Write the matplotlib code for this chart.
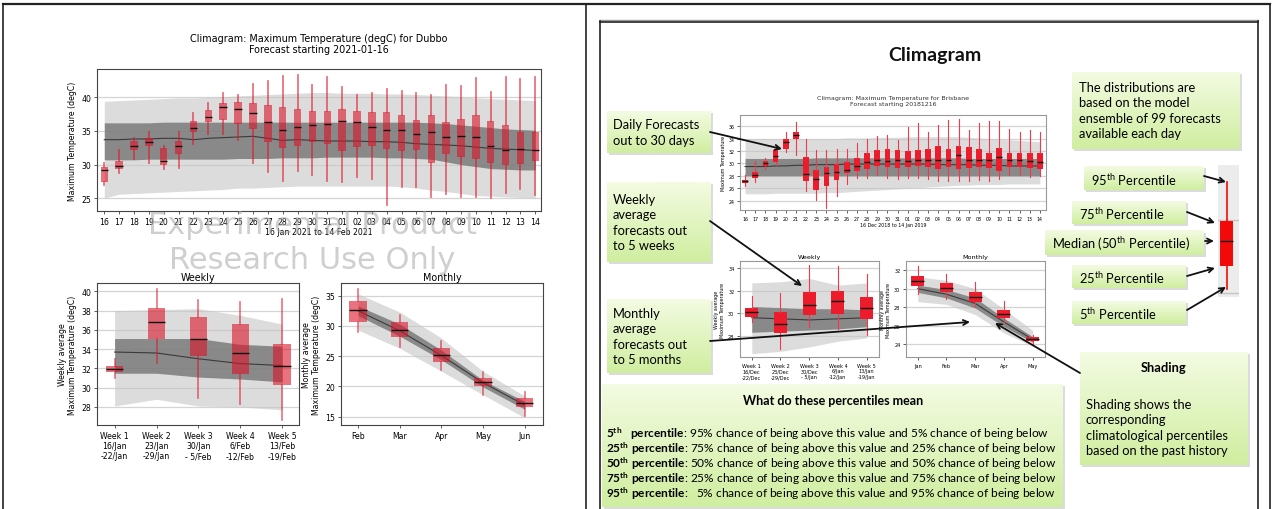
import numpy as np
import matplotlib.pyplot as plt
from matplotlib.colors import LinearSegmentedColormap
from matplotlib.patches import Rectangle

W, H = 1273, 510

# ---------------- Dubbo: daily forecast 16 Jan - 14 Feb 2021 ----------------
dubbo_days = ['16', '17', '18', '19', '20', '21', '22', '23', '24', '25', '26', '27', '28', '29', '30', '31',
              '01', '02', '03', '04', '05', '06', '07', '08', '09', '10', '11', '12', '13', '14']
dubbo_p5 = [26.9, 28.8, 30.9, 30.2, 29.4, 29.5, 33.1, 34.6, 34.6, 33.7, 30.2, 28.9, 27.5, 29.0, 28.4,
            27.6, 27.4, 28.2, 27.8, 24.0, 26.6, 26.7, 25.2, 25.7, 25.2, 25.2, 25.0, 25.8, 26.3, 25.5]
dubbo_p25 = [27.4, 29.4, 32.1, 32.7, 29.9, 31.6, 34.8, 36.3, 36.6, 36.0, 35.3, 33.4, 32.4, 32.8, 33.3,
             33.0, 32.0, 32.6, 32.7, 32.3, 32.0, 32.1, 30.3, 31.6, 31.1, 30.8, 30.2, 30.0, 30.1, 30.6]
dubbo_p50 = [29.2, 29.8, 32.7, 33.3, 30.5, 32.7, 35.5, 37.0, 38.5, 38.3, 37.6, 36.3, 35.1, 35.6, 35.9,
             36.0, 36.5, 36.3, 35.6, 35.2, 35.1, 34.6, 34.8, 34.1, 34.3, 34.1, 32.8, 32.1, 32.3, 32.2]
dubbo_p75 = [29.7, 30.5, 33.5, 34.0, 32.4, 33.5, 36.5, 38.1, 39.1, 39.3, 39.2, 38.9, 38.6, 38.3, 37.9,
             37.9, 38.2, 37.9, 37.8, 37.8, 37.3, 36.6, 37.3, 36.3, 36.8, 37.4, 36.4, 35.9, 34.8, 34.8]
dubbo_p95 = [30.2, 32.2, 34.0, 34.8, 32.7, 34.8, 37.6, 39.2, 40.6, 40.4, 42.0, 42.4, 43.1, 43.3, 41.8,
             43.0, 41.5, 40.3, 40.6, 41.3, 41.0, 40.6, 40.3, 41.8, 41.6, 42.8, 40.8, 43.0, 42.7, 43.0]
# climatology
dubbo_c5 = [25.0, 25.6, 25.7, 25.8, 25.9, 26.0, 26.1, 26.2, 26.3, 26.5, 26.5, 26.6, 26.7, 26.8, 26.8,
            26.8, 26.8, 26.8, 26.8, 26.8, 26.7, 26.5, 26.2, 26.0, 25.7, 25.4, 25.3, 25.2, 25.1, 25.1]
dubbo_c25 = [30.7, 30.7, 30.7, 30.8, 30.8, 30.8, 30.8, 30.8, 30.8, 30.9, 30.9, 30.9, 31.0, 31.0, 31.0,
             31.1, 31.1, 31.1, 31.1, 31.0, 31.0, 30.9, 30.8, 30.4, 30.0, 29.7, 29.4, 29.3, 29.2, 29.2]
dubbo_c50 = [33.7, 33.7, 33.8, 33.8, 33.9, 33.9, 33.7, 33.9, 34.0, 34.1, 34.2, 33.9, 33.6, 33.7, 33.6,
             33.5, 33.5, 33.5, 33.4, 33.4, 33.3, 33.1, 33.0, 32.9, 32.8, 32.6, 32.4, 32.3, 32.2, 32.1]
dubbo_c75 = [36.2, 36.2, 36.2, 36.2, 36.3, 36.3, 36.3, 36.3, 36.3, 36.3, 36.3, 36.3, 36.3, 36.3, 36.3,
             36.3, 36.3, 36.3, 36.3, 36.3, 36.3, 36.3, 36.2, 36.1, 35.9, 35.7, 35.5, 35.3, 35.2, 35.1]
dubbo_c95 = [39.4, 39.5, 39.6, 39.7, 39.8, 39.9, 39.9, 40.0, 40.1, 40.2, 40.3, 40.4, 40.5, 40.6, 40.7,
             40.7, 40.6, 40.6, 40.6, 40.5, 40.5, 40.4, 40.3, 40.2, 40.1, 39.9, 39.8, 39.7, 39.6, 39.5]

dubbo_weeks = ['Week 1\n16/Jan\n-22/Jan', 'Week 2\n23/Jan\n-29/Jan', 'Week 3\n30/Jan\n- 5/Feb',
               'Week 4\n6/Feb\n-12/Feb', 'Week 5\n13/Feb\n-19/Feb']
dubbo_w5 = [31.05, 32.6, 28.9, 28.3, 26.7]
dubbo_w25 = [31.6, 35.0, 33.3, 31.4, 30.3]
dubbo_w50 = [31.95, 36.8, 35.1, 33.6, 32.3]
dubbo_w75 = [32.3, 38.3, 37.3, 36.6, 34.5]
dubbo_w95 = [33.0, 40.25, 39.1, 38.9, 39.2]
dubbo_wc5 = [28.1, 28.8, 28.1, 28.0, 27.7]
dubbo_wc25 = [31.5, 31.5, 31.1, 30.9, 30.6]
dubbo_wc50 = [33.7, 33.6, 33.0, 32.5, 32.3]
dubbo_wc75 = [35.1, 35.1, 35.1, 34.5, 34.3]
dubbo_wc95 = [38.0, 38.1, 38.2, 37.5, 36.6]

dubbo_months = ['Feb', 'Mar', 'Apr', 'May', 'Jun']
dubbo_m5 = [29.0, 26.5, 22.7, 18.5, 15.1]
dubbo_m25 = [30.6, 28.1, 24.1, 20.0, 16.5]
dubbo_m50 = [32.6, 29.3, 25.2, 20.7, 17.2]
dubbo_m75 = [34.2, 30.6, 26.4, 21.3, 18.0]
dubbo_m95 = [36.1, 31.8, 27.5, 22.3, 19.1]
dubbo_mc5 = [29.3, 26.3, 22.5, 18.6, 14.8]
dubbo_mc25 = [31.7, 28.3, 24.4, 19.9, 16.2]
dubbo_mc50 = [32.5, 29.2, 25.1, 20.6, 16.9]
dubbo_mc75 = [33.3, 30.3, 26.0, 21.0, 17.5]
dubbo_mc95 = [35.3, 32.3, 28.0, 22.5, 18.4]

# ---------------- Brisbane example: forecast starting 20181216 ----------------
bris_days = ['16', '17', '18', '19', '20', '21', '22', '23', '24', '25', '26', '27', '28', '29', '30', '31',
             '01', '02', '03', '04', '05', '06', '07', '08', '09', '10', '11', '12', '13', '14']
bris_p5 = [26.4, 27.0, 29.1, 29.7, 31.8, 31.4, 25.5, 24.1, 22.9, 24.8, 26.7, 27.7, 27.7, 28.1, 27.7,
           27.5, 27.7, 27.6, 27.5, 27.2, 27.1, 27.2, 27.2, 27.4, 27.2, 27.5, 28.1, 28.1, 27.8, 28.0]
bris_p25 = [26.9, 27.6, 29.6, 30.2, 32.4, 34.0, 27.1, 25.8, 26.4, 27.4, 28.4, 28.8, 29.1, 29.6, 29.4,
            29.3, 29.4, 29.6, 29.4, 29.1, 29.4, 29.1, 29.3, 29.4, 29.3, 28.8, 29.4, 29.4, 29.3, 29.1]
bris_p50 = [27.1, 28.2, 30.0, 31.2, 33.4, 34.5, 28.3, 27.5, 28.4, 28.6, 29.0, 29.6, 30.3, 30.6, 30.4,
            30.6, 30.4, 30.6, 30.5, 30.5, 30.5, 31.3, 30.6, 30.6, 30.5, 31.0, 30.5, 30.5, 30.4, 30.2]
bris_p75 = [27.4, 28.6, 30.4, 32.1, 34.0, 35.0, 31.1, 28.9, 29.4, 29.9, 30.2, 30.9, 31.6, 32.1, 32.3,
            32.1, 32.0, 32.2, 32.3, 32.8, 32.3, 32.8, 32.6, 32.3, 31.7, 32.5, 31.7, 31.7, 31.6, 31.6]
bris_p95 = [28.1, 30.4, 30.9, 32.9, 35.1, 36.7, 34.0, 32.2, 32.1, 32.4, 32.3, 33.3, 34.0, 34.4, 34.5,
            33.7, 35.9, 36.5, 35.1, 36.2, 37.0, 37.2, 35.4, 36.5, 36.9, 36.9, 35.6, 35.1, 35.4, 35.0]
bris_c5 = [25.1, 25.1, 25.1, 25.2, 25.2, 25.2, 25.2, 25.2, 25.3, 25.3, 25.4, 25.5, 25.6, 25.7, 25.8,
           25.9, 26.0, 26.1, 26.2, 26.3, 26.4, 26.5, 26.5, 26.6, 26.6, 26.6, 26.7, 26.7, 26.7, 26.7]
bris_c25 = [28.0, 28.0, 28.0, 28.0, 28.0, 28.0, 28.0, 28.0, 28.0, 28.0, 28.0, 28.0, 28.0, 28.0, 28.0,
            28.0, 28.0, 28.0, 28.0, 28.0, 28.0, 28.0, 28.0, 28.0, 28.0, 28.0, 28.0, 28.0, 28.0, 28.0]
bris_c50 = [29.5, 29.5, 29.5, 29.6, 29.6, 29.7, 29.7, 29.8, 29.8, 29.8, 29.9, 29.9, 29.9, 29.9, 29.9,
            29.9, 29.9, 29.9, 29.9, 29.8, 29.8, 29.8, 29.8, 29.7, 29.7, 29.7, 29.6, 29.6, 29.6, 29.6]
bris_c75 = [30.8, 30.8, 30.8, 30.8, 30.8, 30.8, 30.8, 30.9, 30.9, 30.9, 30.9, 30.9, 30.9, 30.9, 30.9,
            30.9, 30.9, 30.9, 30.9, 30.9, 30.9, 30.9, 30.8, 30.8, 30.8, 30.8, 30.8, 30.8, 30.8, 30.8]
bris_c95 = [34.0, 34.0, 34.0, 34.0, 34.0, 34.0, 34.0, 34.0, 34.0, 34.0, 34.1, 34.1, 34.1, 34.2, 34.2,
            34.2, 34.3, 34.3, 34.3, 34.3, 34.3, 34.3, 34.2, 34.1, 34.0, 33.9, 33.8, 33.7, 33.6, 33.5]

bris_weeks = ['Week 1\n16/Dec\n-22/Dec', 'Week 2\n23/Dec\n-29/Dec', 'Week 3\n30/Dec\n- 5/Jan',
              'Week 4\n6/Jan\n-12/Jan', 'Week 5\n13/Jan\n-19/Jan']
bris_w5 = [29.2, 26.8, 28.8, 28.6, 28.1]
bris_w25 = [29.7, 28.2, 29.8, 29.9, 29.5]
bris_w50 = [30.15, 29.0, 30.75, 31.1, 30.45]
bris_w75 = [30.5, 30.15, 31.85, 32.0, 31.4]
bris_w95 = [31.5, 31.8, 34.3, 34.2, 33.5]
bris_wc5 = [26.4, 26.6, 27.0, 27.5, 27.8]
bris_wc25 = [28.3, 28.4, 28.5, 28.6, 28.8]
bris_wc50 = [29.6, 29.5, 29.4, 29.5, 29.6]
bris_wc75 = [30.6, 30.5, 30.4, 30.4, 30.3]
bris_wc95 = [32.7, 32.8, 33.1, 32.5, 32.7]

bris_months = ['Jan', 'Feb', 'Mar', 'Apr', 'May']
bris_m5 = [29.4, 28.9, 28.1, 26.3, 24.0]
bris_m25 = [30.3, 29.6, 28.6, 26.8, 24.3]
bris_m50 = [30.85, 30.1, 29.15, 27.3, 24.5]
bris_m75 = [31.4, 30.6, 29.6, 27.7, 24.8]
bris_m95 = [32.5, 31.6, 30.7, 28.7, 25.0]
bris_mc5 = [28.6, 28.3, 27.2, 25.2, 23.8]
bris_mc25 = [29.6, 29.0, 27.9, 25.9, 24.2]
bris_mc50 = [30.0, 29.4, 28.4, 26.4, 24.5]
bris_mc75 = [30.4, 29.9, 29.0, 26.8, 24.8]
bris_mc95 = [31.3, 30.9, 30.0, 27.8, 25.5]

# example box on the legend: 5th, 25th, 50th, 75th, 95th
legend_box = [8, 31, 56, 76, 115]

plt.rcParams['mathtext.fontset'] = 'custom'
plt.rcParams['mathtext.rm'] = 'Lato'
plt.rcParams['mathtext.bf'] = 'Lato:bold'

fig = plt.figure(figsize=(W / 100, H / 100), dpi=100)


def px_axes(l, t, r, b):
    return fig.add_axes([l / W, 1 - b / H, (r - l) / W, (b - t) / H])


def climagram(ax, fc, clim, labels, box, wlw, width, alpha, fs, spine='#444444'):
    x = np.arange(len(labels))
    ax.fill_between(x, clim[0], clim[4], color='#c6c6c6', alpha=0.6, lw=0, zorder=1)
    ax.fill_between(x, clim[1], clim[3], color='#6e6e6e', alpha=0.75, lw=0, zorder=1.1)
    ax.plot(x, clim[2], color='#3a3a3a', lw=0.8, zorder=1.2)
    stats = [dict(whislo=a, q1=b, med=c, q3=d, whishi=e) for a, b, c, d, e in zip(*fc)]
    ax.bxp(stats, positions=x, widths=width, patch_artist=True, showcaps=False, showfliers=False,
           boxprops=dict(facecolor=box[0], edgecolor='none', alpha=alpha),
           whiskerprops=dict(color=box[1], lw=wlw, alpha=alpha),
           medianprops=dict(color='#111111', lw=1.0), zorder=3)
    ax.set_xticks(x, labels)
    ax.yaxis.grid(True, color='#d4d4d4', lw=0.9, zorder=0)
    ax.set_axisbelow(True)
    ax.tick_params(labelsize=fs, length=2.5, width=0.6, color='#444444', pad=1.5)
    for s in ax.spines.values():
        s.set_color(spine)
        s.set_linewidth(0.8)


# ---------------- left panel (Dubbo) ----------------
red_a = ('#dc1428', '#dc1428')
ax = px_axes(97, 70, 541, 212)
climagram(ax, (dubbo_p5, dubbo_p25, dubbo_p50, dubbo_p75, dubbo_p95),
          (dubbo_c5, dubbo_c25, dubbo_c50, dubbo_c75, dubbo_c95), dubbo_days, red_a, 1.3, 0.5, 0.6, 5.6)
ax.set_xlim(-0.49, 29.38)
ax.set_ylim(23.1, 44.2)
ax.set_yticks([25, 30, 35, 40])
ax.set_title('Climagram: Maximum Temperature (degC) for Dubbo\nForecast starting 2021-01-16', fontsize=6.9, pad=12)
ax.set_xlabel('16 Jan 2021 to 14 Feb 2021', fontsize=5.6, labelpad=1)
ax.set_ylabel('Maximum Temperature (degC)', fontsize=5.6, labelpad=3)

ax = px_axes(97, 284, 299, 426)
climagram(ax, (dubbo_w5, dubbo_w25, dubbo_w50, dubbo_w75, dubbo_w95),
          (dubbo_wc5, dubbo_wc25, dubbo_wc50, dubbo_wc75, dubbo_wc95), dubbo_weeks, red_a, 1.2, 0.42, 0.6, 5.6)
ax.set_xlim(-0.42, 4.4)
ax.set_ylim(26.13, 40.86)
ax.set_yticks([28, 30, 32, 34, 36, 38, 40])
ax.set_title('Weekly', fontsize=6.9, pad=2)
ax.set_ylabel('Weekly average\nMaximum Temperature (degC)', fontsize=5.6, labelpad=3)

ax = px_axes(341, 284, 543, 426)
climagram(ax, (dubbo_m5, dubbo_m25, dubbo_m50, dubbo_m75, dubbo_m95),
          (dubbo_mc5, dubbo_mc25, dubbo_mc50, dubbo_mc75, dubbo_mc95), dubbo_months, red_a, 1.2, 0.42, 0.6, 5.6)
ax.set_xlim(-0.41, 4.44)
ax.set_ylim(13.6, 37.1)
ax.set_yticks([15, 20, 25, 30, 35])
ax.set_title('Monthly', fontsize=6.9, pad=2)
ax.set_ylabel('Monthly average\nMaximum Temperature (degC)', fontsize=5.6, labelpad=3)

# ---------------- right panel (Brisbane example) ----------------
red_b = ('#ec1c2c', '#f03a4c')
ax = px_axes(740, 116, 1046, 211)
climagram(ax, (bris_p5, bris_p25, bris_p50, bris_p75, bris_p95),
          (bris_c5, bris_c25, bris_c50, bris_c75, bris_c95), bris_days, red_b, 0.8, 0.55, 1.0, 3.4, '#999999')
ax.set_xlim(-0.5, 29.6)
ax.set_ylim(22.5, 37.8)
ax.set_yticks([24, 26, 28, 30, 32, 34, 36])
ax.set_title('Climagram: Maximum Temperature for Brisbane\nForecast starting 20181216', fontsize=4.5, pad=7,
             color='#333333')
ax.set_xlabel('16 Dec 2018 to 14 Jan 2019', fontsize=3.4, labelpad=1)
ax.set_ylabel('Maximum Temperature', fontsize=3.4, labelpad=2)

ax = px_axes(740, 262, 879, 358)
climagram(ax, (bris_w5, bris_w25, bris_w50, bris_w75, bris_w95),
          (bris_wc5, bris_wc25, bris_wc50, bris_wc75, bris_wc95), bris_weeks, red_b, 0.8, 0.45, 1.0, 3.6, '#999999')
ax.set_xlim(-0.41, 4.43)
ax.set_ylim(26.1, 34.65)
ax.set_yticks([28, 30, 32, 34])
ax.set_title('Weekly', fontsize=4.6, pad=2)
ax.set_ylabel('Weekly average\nMaximum Temperature', fontsize=3.4, labelpad=2)

ax = px_axes(906, 262, 1045, 358)
climagram(ax, (bris_m5, bris_m25, bris_m50, bris_m75, bris_m95),
          (bris_mc5, bris_mc25, bris_mc50, bris_mc75, bris_mc95), bris_months, red_b, 0.8, 0.45, 1.0, 3.6, '#999999')
ax.set_xlim(-0.41, 4.43)
ax.set_ylim(22.6, 33.0)
ax.set_yticks([24, 26, 28, 30, 32])
ax.set_title('Monthly', fontsize=4.6, pad=2)
ax.set_ylabel('Monthly average\nMaximum Temperature', fontsize=3.4, labelpad=2)

# example box next to the percentile labels
ax = px_axes(1218, 166, 1239, 298)
ax.axhline(77, color='#c4c4c4', lw=1)
ax.axhline(4, color='#c4c4c4', lw=1)
ax.bxp([dict(whislo=legend_box[0], q1=legend_box[1], med=legend_box[2], q3=legend_box[3], whishi=legend_box[4])],
       positions=[-0.08], widths=0.62, patch_artist=True, showcaps=False, showfliers=False,
       boxprops=dict(facecolor='#f20a0a', edgecolor='none'), whiskerprops=dict(color='#f20a0a', lw=1.2),
       medianprops=dict(color='#111111', lw=1.0))
ax.set_xlim(-0.5, 0.5)
ax.set_ylim(0, 132)
ax.axis('off')
ax.add_patch(Rectangle((0, 0), 1, 1, transform=ax.transAxes, color='#ececec', zorder=0))

# ---------------- overlay: frames, text boxes, arrows ----------------
ov = fig.add_axes([0, 0, 1, 1], zorder=10)
ov.patch.set_visible(False)
green = LinearSegmentedColormap.from_list('green', ['#f3fbe2', '#d0eea0'])
grad = np.linspace(0, 1, 64).reshape(-1, 1)
lato = 'Lato'


def green_box(l, t, r, b):
    ov.add_patch(Rectangle((l + 1.5, t + 2), r - l, b - t, color='#b8b8b8', alpha=0.5, lw=0, zorder=1))
    ov.imshow(grad, extent=(l, r, b, t), cmap=green, aspect='auto', zorder=2, interpolation='bilinear')


def arrow(x1, y1, x2, y2):
    ov.annotate('', xy=(x2, y2), xytext=(x1, y1),
                arrowprops=dict(arrowstyle='->', color='#111111', lw=1.3, mutation_scale=9,
                                shrinkA=0, shrinkB=0), zorder=5)


# panel frames
ov.plot([3, 1270], [5, 5], color='#222222', lw=1.6)
ov.plot([3, 3], [5, 510], color='#222222', lw=1.2)
ov.plot([1270, 1270], [5, 510], color='#222222', lw=1.2)
ov.plot([586, 586], [5, 510], color='#222222', lw=1.2)
ov.plot([600, 1258], [21, 21], color='#999999', lw=1.0)
ov.plot([600, 1258], [23, 23], color='#222222', lw=1.2)
ov.plot([600, 600], [22, 510], color='#222222', lw=1.2)
ov.plot([1258, 1258], [22, 510], color='#222222', lw=1.2)

# watermark on the Dubbo chart
ov.text(312, 226, 'Experimental Product', fontsize=22, color='#a8a8a8', alpha=0.55, ha='center', va='center')
ov.text(312, 261, 'Research Use Only', fontsize=22, color='#a8a8a8', alpha=0.55, ha='center', va='center')

ov.text(935, 55, 'Climagram', fontsize=14, fontweight='bold', family=lato, ha='center', va='center', color='#111111')

fs = 9.3
green_box(607, 112, 711, 154)
ov.text(613, 133, 'Daily Forecasts\nout to 30 days', fontsize=fs, family=lato, va='center', linespacing=1.35)
green_box(607, 183, 711, 263)
ov.text(613, 223, 'Weekly\naverage\nforecasts out\nto 5 weeks', fontsize=fs, family=lato, va='center',
        linespacing=1.35)
green_box(607, 300, 711, 374)
ov.text(613, 337, 'Monthly\naverage\nforecasts out\nto 5 months', fontsize=fs, family=lato, va='center',
        linespacing=1.35)
green_box(1072, 73, 1240, 150)
ov.text(1079, 111, 'The distributions are\nbased on the model\nensemble of 99 forecasts\navailable each day',
        fontsize=fs, family=lato, va='center', linespacing=1.35)

green_box(1084, 167, 1204, 191)
ov.text(1091, 180, r'95$^{\rm th}$ Percentile', fontsize=fs, family=lato, va='center')
green_box(1072, 202, 1186, 225)
ov.text(1079, 214, r'75$^{\rm th}$ Percentile', fontsize=fs, family=lato, va='center')
green_box(1045, 232, 1204, 256)
ov.text(1052, 244, r'Median (50$^{\rm th}$ Percentile)', fontsize=fs, family=lato, va='center')
green_box(1072, 266, 1186, 289)
ov.text(1079, 278, r'25$^{\rm th}$ Percentile', fontsize=fs, family=lato, va='center')
green_box(1072, 302, 1186, 325)
ov.text(1079, 314, r'5$^{\rm th}$ Percentile', fontsize=fs, family=lato, va='center')

green_box(1080, 353, 1248, 466)
ov.text(1164, 368, 'Shading', fontsize=fs, fontweight='bold', family=lato, ha='center', va='center')
ov.text(1086, 428, 'Shading shows the\ncorresponding\nclimatological percentiles\nbased on the past history',
        fontsize=fs, family=lato, va='center', linespacing=1.35)

green_box(602, 385, 1063, 508)
ov.text(833, 401, 'What do these percentiles mean', fontsize=9, fontweight='bold', family=lato,
        ha='center', va='center')
pct_lines = [
    r'$\mathbf{5^{th}}$   $\mathbf{percentile}$: 95% chance of being above this value and 5% chance of being below',
    r'$\mathbf{25^{th}}$ $\mathbf{percentile}$: 75% chance of being above this value and 25% chance of being below',
    r'$\mathbf{50^{th}}$ $\mathbf{percentile}$: 50% chance of being above this value and 50% chance of being below',
    r'$\mathbf{75^{th}}$ $\mathbf{percentile}$: 25% chance of being above this value and 75% chance of being below',
    r'$\mathbf{95^{th}}$ $\mathbf{percentile}$:   5% chance of being above this value and 95% chance of being below',
]
for i, line in enumerate(pct_lines):
    ov.text(606, 434 + 15 * i, line, fontsize=8.6, family=lato, va='center')

arrow(710, 133, 782, 150)
arrow(710, 222, 802, 287)
arrow(710, 342, 970, 323)
arrow(1080, 374, 995, 324)
arrow(1204, 177, 1226, 183)
arrow(1187, 213, 1215, 224)
arrow(1205, 242, 1214, 242)
arrow(1187, 277, 1215, 269)
arrow(1187, 311, 1226, 288)

ov.set_xlim(0, W)
ov.set_ylim(H, 0)
ov.axis('off')

fig.savefig('out.png', dpi=100, facecolor='white')
